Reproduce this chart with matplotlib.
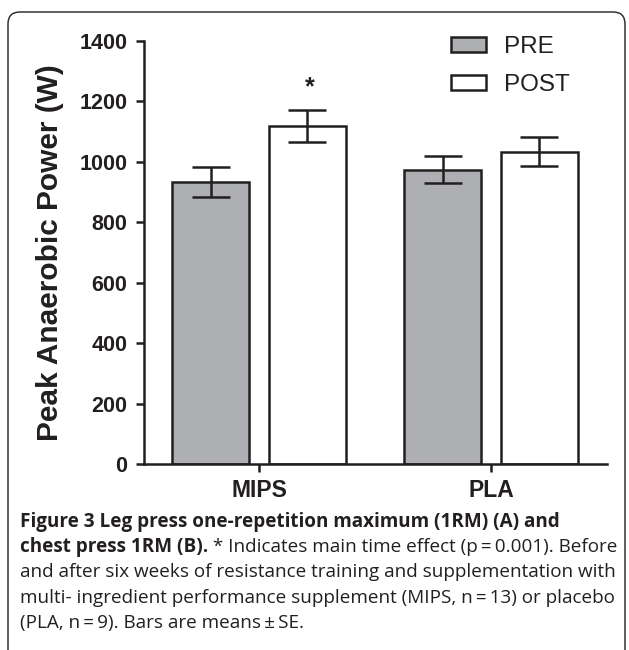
import numpy as np
import matplotlib
matplotlib.use('Agg')
import matplotlib.pyplot as plt
from matplotlib.patches import Patch, FancyBboxPatch
from matplotlib.transforms import IdentityTransform

### data
groups = ['MIPS', 'PLA']
series = ['PRE', 'POST']
pre_mean = [932, 973]
pre_se = [50, 45]
post_mean = [1118, 1032]
post_se = [53, 48]
y_ticks = [0, 200, 400, 600, 800, 1000, 1200, 1400]

caption_bold = ['Figure 3 Leg press one-repetition maximum (1RM) (A) and',
                'chest press 1RM (B).']
caption_rest = ['',
                ' * Indicates main time effect (p\u2009=\u20090.001). Before',
                'and after six weeks of resistance training and supplementation with',
                'multi- ingredient performance supplement (MIPS, n\u2009=\u200913) or placebo',
                '(PLA, n\u2009=\u20099). Bars are means\u2009\u00b1\u2009SE.']

edge = '#231f20'
gray = '#adafb2'

fig = plt.figure(figsize=(6.29, 6.5), dpi=100)
ax = fig.add_axes([144/629, 186/650, 463/629, 423.4/650])

x = np.arange(len(groups))
w = 0.332
off = 0.208
ax.bar(x - off, pre_mean, w, color=gray, edgecolor=edge, linewidth=1.8, zorder=2)
ax.bar(x + off, post_mean, w, color='white', edgecolor=edge, linewidth=1.8, zorder=2)
ax.errorbar(x - off, pre_mean, yerr=pre_se, fmt='none', ecolor=edge,
            elinewidth=1.8, capsize=14, capthick=1.8, zorder=3)
ax.errorbar(x + off, post_mean, yerr=post_se, fmt='none', ecolor=edge,
            elinewidth=1.8, capsize=14, capthick=1.8, zorder=3)
ax.text(x[0] + off + 0.012, post_mean[0] + post_se[0] + 35, '*', ha='center', va='bottom',
        fontsize=18, fontweight='bold', family='Liberation Sans', color=edge)

ax.set_xlim(-0.496, 1.5)
ax.set_ylim(0, 1400)
ax.set_yticks(y_ticks)
ax.set_xticks(x)
ax.set_xticklabels(groups, fontsize=16.5, fontweight='bold', family='Liberation Sans')
for lab in ax.get_yticklabels():
    lab.set_fontsize(15.5)
    lab.set_fontweight('bold')
    lab.set_family('Liberation Sans')
ax.tick_params(axis='both', length=6, width=1.8, color=edge, labelcolor=edge)
ax.tick_params(axis='y', pad=6)
ax.tick_params(axis='x', pad=5)
for s in ['top', 'right']:
    ax.spines[s].set_visible(False)
for s in ['left', 'bottom']:
    ax.spines[s].set_linewidth(1.8)
    ax.spines[s].set_color(edge)
ax.set_ylabel('Peak Anaerobic Power (W)', fontsize=21.5, fontweight='bold',
              family='Liberation Sans', color=edge, labelpad=11)

handles = [Patch(facecolor=gray, edgecolor=edge, linewidth=1.8, label=series[0]),
           Patch(facecolor='white', edgecolor=edge, linewidth=1.8, label=series[1])]
leg = ax.legend(handles=handles, loc='upper left', bbox_to_anchor=(451/629, 1 - 36/650),
                bbox_transform=fig.transFigure, frameon=False,
                prop={'family': 'Liberation Sans', 'size': 17.5},
                handlelength=1.45, handleheight=0.58, handletextpad=0.75,
                labelspacing=0.66, borderpad=0, borderaxespad=0)
for t in leg.get_texts():
    t.set_color(edge)

### rounded frame around figure
frame = FancyBboxPatch((8, -30), 617, 668, boxstyle='round,pad=0,rounding_size=12',
                       transform=IdentityTransform(), facecolor='none',
                       edgecolor='#333333', linewidth=1.1)
fig.patches.append(frame)

### caption
cap_font = 'Open Sans'
cap_size = 13.6
fig.canvas.draw()
r = fig.canvas.get_renderer()
y0 = 650 - 527
for i in range(5):
    ypix = y0 - i * 25.2
    xpix = 20
    if i < len(caption_bold):
        tb = fig.text(xpix / 629, ypix / 650, caption_bold[i], fontsize=cap_size,
                      fontweight='bold', family=cap_font, color='#231f20')
        bb = tb.get_window_extent(renderer=r)
        xpix = bb.x1
    if caption_rest[i]:
        fig.text(xpix / 629, ypix / 650, caption_rest[i], fontsize=cap_size,
                 family=[cap_font, 'DejaVu Sans'], color='#231f20')

fig.savefig('out.png', dpi=100)
